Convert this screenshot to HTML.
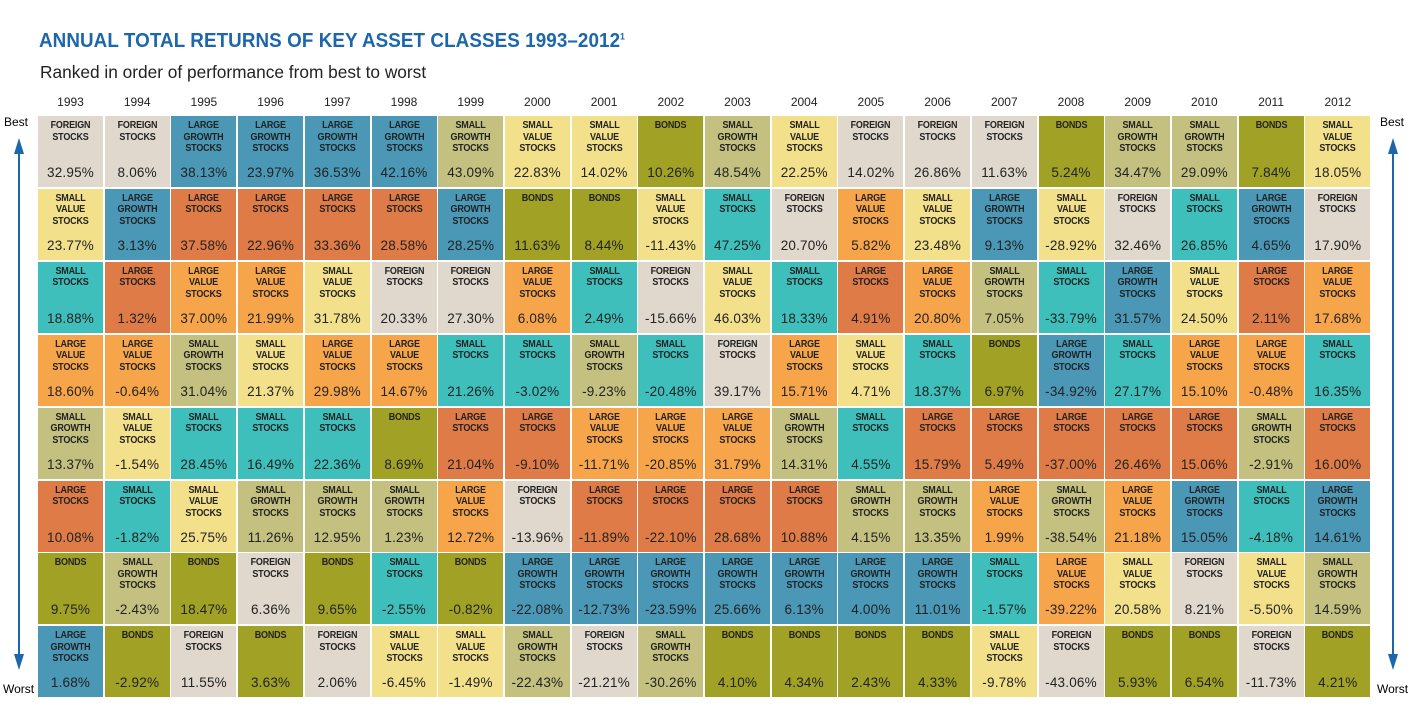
<!DOCTYPE html>
<html><head><meta charset="utf-8"><style>
body{margin:0;width:1414px;height:707px;background:#fff;position:relative;overflow:hidden;font-family:"Liberation Sans",sans-serif}
.t{position:absolute;white-space:nowrap}
.cell{position:absolute;box-sizing:border-box;text-align:center;color:#222}
.lab{position:absolute;left:0;right:0;top:4px;font-family:"Liberation Sans Narrow","Liberation Sans",sans-serif;font-weight:bold;font-size:10px;line-height:11.5px;letter-spacing:-0.2px;transform:scaleX(0.9)}
.val{position:absolute;left:0;right:0;bottom:7px;font-size:13.5px;letter-spacing:0.2px}
</style></head><body>
<div class="t" style="left:39px;top:30px;font-size:20px;font-weight:bold;color:#1c66ab;letter-spacing:0.1px;transform:scaleX(0.94);transform-origin:left top">ANNUAL TOTAL RETURNS OF KEY ASSET CLASSES 1993–2012<sup style="font-size:9px">1</sup></div>
<div class="t" style="left:40px;top:62px;font-size:17.3px;color:#222">Ranked in order of performance from best to worst</div>
<div class="t" style="left:4px;top:115px;font-size:12px">Best</div>
<div class="t" style="left:3px;top:682px;font-size:12px">Worst</div>
<div class="t" style="left:1380px;top:115px;font-size:12px">Best</div>
<div class="t" style="left:1377px;top:682px;font-size:12px">Worst</div>
<svg width="1414" height="707" style="position:absolute;left:0;top:0">
<g stroke="#1c66ab" stroke-width="2" fill="#1c66ab">
<line x1="19" y1="148" x2="19" y2="660"/><polygon points="19,138 14,154 24,154" stroke="none"/><polygon points="19,670 14,654 24,654" stroke="none"/>
<line x1="1393" y1="148" x2="1393" y2="660"/><polygon points="1393,138 1388,154 1398,154" stroke="none"/><polygon points="1393,670 1388,654 1398,654" stroke="none"/>
</g></svg>
<div id="grid"></div>
<script>
const years=[1993,1994,1995,1996,1997,1998,1999,2000,2001,2002,2003,2004,2005,2006,2007,2008,2009,2010,2011,2012];
const classes=[
"F SV S LV SG L B LG","F LG L LV SV S SG B","LG L LV SG S SV B F","LG L LV SV S SG F B","LG L SV LV S SG B F",
"LG L F LV B SG S SV","SG LG F S L LV B SV","SV B LV S L F LG SG","SV B S SG LV L LG F","B SV F S LV L LG SG",
"SG S SV F LV L LG B","SV F S LV SG L LG B","F LV L SV S SG LG B","F SV LV S L SG LG B","F LG SG B L LV S SV",
"B SV S LG L SG LV F","SG F LG S L LV SV B","SG S SV LV L LG F B","B LG L LV SG S SV F","SV F LV S L LG SG B"];
const returns=[
[32.95,23.77,18.88,18.60,13.37,10.08,9.75,1.68],[8.06,3.13,1.32,-0.64,-1.54,-1.82,-2.43,-2.92],
[38.13,37.58,37.00,31.04,28.45,25.75,18.47,11.55],[23.97,22.96,21.99,21.37,16.49,11.26,6.36,3.63],
[36.53,33.36,31.78,29.98,22.36,12.95,9.65,2.06],[42.16,28.58,20.33,14.67,8.69,1.23,-2.55,-6.45],
[43.09,28.25,27.30,21.26,21.04,12.72,-0.82,-1.49],[22.83,11.63,6.08,-3.02,-9.10,-13.96,-22.08,-22.43],
[14.02,8.44,2.49,-9.23,-11.71,-11.89,-12.73,-21.21],[10.26,-11.43,-15.66,-20.48,-20.85,-22.10,-23.59,-30.26],
[48.54,47.25,46.03,39.17,31.79,28.68,25.66,4.10],[22.25,20.70,18.33,15.71,14.31,10.88,6.13,4.34],
[14.02,5.82,4.91,4.71,4.55,4.15,4.00,2.43],[26.86,23.48,20.80,18.37,15.79,13.35,11.01,4.33],
[11.63,9.13,7.05,6.97,5.49,1.99,-1.57,-9.78],[5.24,-28.92,-33.79,-34.92,-37.00,-38.54,-39.22,-43.06],
[34.47,32.46,31.57,27.17,26.46,21.18,20.58,5.93],[29.09,26.85,24.50,15.10,15.06,15.05,8.21,6.54],
[7.84,4.65,2.11,-0.48,-2.91,-4.18,-5.50,-11.73],[18.05,17.90,17.68,16.35,16.00,14.61,14.59,4.21]];
const names={F:["FOREIGN","STOCKS"],SV:["SMALL","VALUE","STOCKS"],S:["SMALL","STOCKS"],LV:["LARGE","VALUE","STOCKS"],SG:["SMALL","GROWTH","STOCKS"],L:["LARGE","STOCKS"],B:["BONDS"],LG:["LARGE","GROWTH","STOCKS"]};
const colors={F:"#e0d8cc",SV:"#f3e08a",S:"#3ebfbb",LV:"#f7a54b",SG:"#c4c07f",L:"#de7b46",B:"#a1a126",LG:"#4a97b6"};
const x0=38,pitchX=66.7,y0=116,pitchY=72.9,w=65,h=71;
const g=document.getElementById('grid');
years.forEach((yr,j)=>{
  const yl=document.createElement('div');yl.className='t';
  
  
  yl.style.cssText=`left:${x0+j*pitchX}px;width:${w}px;text-align:center;top:95px;font-size:12px;color:#222`;
  yl.textContent=yr;g.appendChild(yl);
  const cl=classes[j].split(' ');
  cl.forEach((c,i)=>{
    const d=document.createElement('div');d.className='cell';
    
    
    d.style.cssText=`left:${x0+j*pitchX}px;top:${y0+i*pitchY}px;width:${w}px;height:${h}px;background:${colors[c]}`;
    const l=document.createElement('div');l.className='lab';l.innerHTML=names[c].join('<br>');
    
    
    const v=document.createElement('div');v.className='val';v.textContent=returns[j][i].toFixed(2)+'%';
    
    
    d.appendChild(l);d.appendChild(v);g.appendChild(d);
  });
});
</script>
</body></html>
